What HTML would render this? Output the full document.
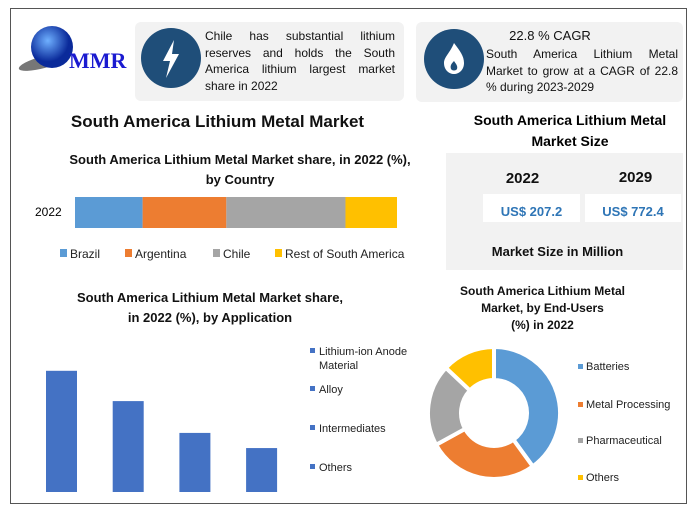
<!DOCTYPE html>
<html><head><meta charset="utf-8"><style>
body{margin:0;width:694px;height:513px;background:#fff;font-family:"Liberation Sans",sans-serif;position:relative;overflow:hidden}
.a{position:absolute}
.t{font-weight:bold;color:#111;text-align:center}
.lg div{white-space:nowrap}
</style></head><body>
<div class="a" style="left:10px;top:8px;width:675px;height:494px;border:1px solid #555"></div>
<svg class="a" style="left:14px;top:20px" width="125" height="60">
<defs><radialGradient id="g" cx="40%" cy="35%"><stop offset="0" stop-color="#6fb0ff"/><stop offset="1" stop-color="#0a2a9a"/></radialGradient></defs>
<ellipse cx="30" cy="42" rx="26" ry="6" fill="#777" transform="rotate(-15 30 42)"/>
<circle cx="38" cy="27" r="21" fill="url(#g)"/>
<text x="55" y="48" font-family="Liberation Serif" font-weight="bold" font-size="22" fill="#1a1ad0">MMR</text>
</svg>
<div class="a" style="left:135px;top:22px;width:269px;height:79px;background:#f2f2f2;border-radius:6px"></div>
<svg class="a" style="left:141px;top:28px" width="60" height="60"><circle cx="30" cy="30" r="30" fill="#1f4e79"/><path d="M33 12 L22 33 L29 33 L25 50 L38 26 L31 26 Z" fill="#fff"/></svg>
<div class="a" style="left:205px;top:28px;width:190px;font-size:12px;line-height:16.5px;text-align:justify;text-align-last:left;color:#111">Chile has substantial lithium reserves and holds the South America lithium largest market share in 2022</div>
<div class="a" style="left:416px;top:22px;width:267px;height:80px;background:#f2f2f2;border-radius:6px"></div>
<svg class="a" style="left:424px;top:29px" width="60" height="60"><circle cx="30" cy="30" r="30" fill="#1f4e79"/><path d="M30 14 C36 22 40 27 40 34 C40 41 35 45 30 45 C25 45 20 41 20 34 C20 28 26 24 30 14 Z M30 32 C27 35 26 37 27 40 C28 42 32 42 33 40 C34 37 32 35 30 32Z" fill="#fff" fill-rule="evenodd"/></svg>
<div class="a t" style="left:485px;top:28px;width:130px;font-size:13px;font-weight:normal">22.8 % CAGR</div>
<div class="a" style="left:486px;top:46px;width:192px;font-size:12px;line-height:16.5px;text-align:justify;text-align-last:left;color:#111">South America Lithium Metal Market to grow at a CAGR of 22.8 % during 2023-2029</div>
<div class="a t" style="left:40px;top:112px;width:355px;font-size:17px">South America Lithium Metal Market</div>
<div class="a t" style="left:50px;top:150px;width:380px;font-size:13px;line-height:20px">South America Lithium Metal Market share, in 2022 (%),<br>by Country</div>
<div class="a" style="left:35px;top:205px;font-size:12px">2022</div>
<svg class="a" style="left:0;top:0" width="450" height="270" id="cs"></svg>
<div class="a" style="left:460px;top:110px;width:220px;font-size:14px;font-weight:bold;text-align:center;line-height:21px">South America Lithium Metal<br>Market Size</div>
<div class="a" style="left:446px;top:153px;width:237px;height:117px;background:#f2f2f2"></div>
<div class="a t" style="left:485px;top:170px;width:75px;font-size:15px">2022</div>
<div class="a t" style="left:598px;top:169px;width:75px;font-size:15px">2029</div>
<div class="a" style="left:483px;top:194px;width:97px;height:28px;background:#fff;color:#2e75b6;font-size:13px;font-weight:bold;text-align:center;line-height:36px">US$ 207.2</div>
<div class="a" style="left:585px;top:194px;width:96px;height:28px;background:#fff;color:#2e75b6;font-size:13px;font-weight:bold;text-align:center;line-height:36px">US$ 772.4</div>
<div class="a t" style="left:470px;top:244px;width:175px;font-size:13px">Market Size in Million</div>
<div class="a t" style="left:40px;top:288px;width:340px;font-size:13px;line-height:20px">South America Lithium Metal Market share,<br>in 2022 (%), by Application</div>
<svg class="a" style="left:0;top:0" width="420" height="513" id="ab"></svg>
<div class="a lg" style="left:310px;top:345px;width:120px;height:140px;font-size:11px;color:#222;line-height:14px">
<div style="position:absolute;top:0"><span style="display:inline-block;width:5px;height:5px;background:#4472c4;margin-right:4px;vertical-align:2px"></span>Lithium-ion Anode<br><span style="padding-left:9px">Material</span></div>
<div style="position:absolute;top:38px"><span style="display:inline-block;width:5px;height:5px;background:#4472c4;margin-right:4px;vertical-align:2px"></span>Alloy</div>
<div style="position:absolute;top:77px"><span style="display:inline-block;width:5px;height:5px;background:#4472c4;margin-right:4px;vertical-align:2px"></span>Intermediates</div>
<div style="position:absolute;top:116px"><span style="display:inline-block;width:5px;height:5px;background:#4472c4;margin-right:4px;vertical-align:2px"></span>Others</div>
</div>
<div class="a t" style="left:440px;top:283px;width:205px;font-size:12px;line-height:17px">South America Lithium Metal<br>Market, by End-Users<br>(%) in 2022</div>
<svg class="a" style="left:0;top:0" width="694" height="513" id="dn"></svg>
<script>
const NS="http://www.w3.org/2000/svg";
function mk(p,t,at){const e=document.createElementNS(NS,t);for(const k in at)e.setAttribute(k,at[k]);p.appendChild(e);return e;}
const countries=["Brazil","Argentina","Chile","Rest of South America"];
const countryShares=[21,26,37,16];
const countryColors=["#5b9bd5","#ed7d31","#a5a5a5","#ffc000"];
const cs=document.getElementById('cs');
const bx0=75,bw=322,total=countryShares.reduce((a,b)=>a+b,0);
let cx=bx0;
countryShares.forEach((v,i)=>{const w=v/total*bw;
const r=mk(cs,'rect',{x:cx,y:197,width:w,height:31,fill:countryColors[i]});


cx+=w;});
const lx=[60,125,213,275];
countries.forEach((c,i)=>{const s=mk(cs,'rect',{x:lx[i],y:249,width:7,height:8,fill:countryColors[i]});


const t=mk(cs,'text',{x:lx[i]+10,y:258,'font-size':12,fill:'#222','font-family':'Liberation Sans'});t.textContent=c;

});
const applications=["Lithium-ion Anode Material","Alloy","Intermediates","Others"];
const appValues=[40,30,19.5,14.5];
const ab=document.getElementById('ab');
const base=492,yScale=v=>v*3.03;
applications.forEach((a,i)=>{const h=yScale(appValues[i]);
const r=mk(ab,'rect',{x:46+i*66.7,y:base-h,width:31,height:h,fill:'#4472c4'});

});
const endUsers=["Batteries","Metal Processing","Pharmaceutical","Others"];
const endShares=[40,27,20,13];
const donutColors=["#5b9bd5","#ed7d31","#a5a5a5","#ffc000"];
const dn=document.getElementById('dn');
const ccx=494,ccy=413,R=66,r0=33;
let ang=0;const tot=endShares.reduce((a,b)=>a+b,0);
function pt(a,rad){return [ccx+rad*Math.sin(a),ccy-rad*Math.cos(a)];}
endShares.forEach((v,i)=>{const a1=ang,a2=ang+v/tot*2*Math.PI;ang=a2;
const lg=(a2-a1)>Math.PI?1:0;
const p1=pt(a1,R),p2=pt(a2,R),p3=pt(a2,r0),p4=pt(a1,r0);
const p=mk(dn,'path',{d:`M${p1} A${R} ${R} 0 ${lg} 1 ${p2} L${p3} A${r0} ${r0} 0 ${lg} 0 ${p4}Z`,fill:donutColors[i],stroke:'#fff','stroke-width':4});

});
const ly=[369,407,443,480];
endUsers.forEach((u,i)=>{const s=mk(dn,'rect',{x:578,y:ly[i]-5,width:5,height:5,fill:donutColors[i]});


const t=mk(dn,'text',{x:586,y:ly[i]+1,'font-size':11,fill:'#222','font-family':'Liberation Sans'});t.textContent=u;

});
</script>
</body></html>
